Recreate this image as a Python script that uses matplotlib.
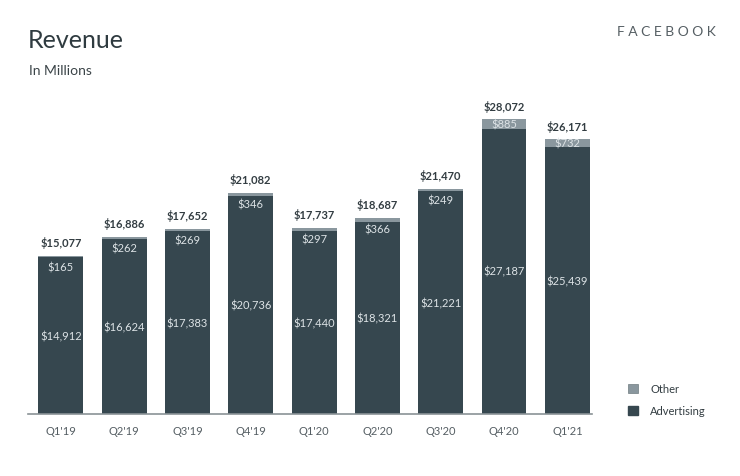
import matplotlib
matplotlib.use("Agg")
import matplotlib.pyplot as plt
from matplotlib.patches import Patch

quarters = ["Q1'19", "Q2'19", "Q3'19", "Q4'19", "Q1'20", "Q2'20", "Q3'20", "Q4'20", "Q1'21"]
advertising = [14912, 16624, 17383, 20736, 17440, 18321, 21221, 27187, 25439]
other = [165, 262, 269, 346, 297, 366, 249, 885, 732]
totals = [15077, 16886, 17652, 21082, 17737, 18687, 21470, 28072, 26171]

ADV = "#36474f"
OTH = "#8a979e"
TXT = "#333d42"

plt.rcParams['font.family'] = ['Lato', 'DejaVu Sans']

fig = plt.figure(figsize=(7.4, 4.77), dpi=100)
W, H = 740, 477
ax_left, ax_right, ax_bottom, ax_top = 28, 592, 415, 100
ax = fig.add_axes([ax_left / W, 1 - ax_bottom / H, (ax_right - ax_left) / W, (ax_bottom - ax_top) / H])

x = list(range(len(quarters)))
ax.bar(x, advertising, width=0.71, color=ADV, zorder=2)
ax.bar(x, other, bottom=advertising, width=0.71, color=OTH, zorder=2)

ax.set_xlim(-0.52, 8.39)
ax.set_ylim(0, 30000)

for i in x:
    top = advertising[i] + other[i]
    ax.text(i, top + 1300, f"${totals[i]:,}", ha='center', va='center',
            fontsize=8, fontweight='bold', color=TXT)
    if other[i] > 600:
        oy = advertising[i] + other[i] / 2
    else:
        oy = top - 1050
    ax.text(i, oy, f"${other[i]:,}", ha='center', va='center', fontsize=8, color="#dde3e6")
    ax.text(i, advertising[i] / 2, f"${advertising[i]:,}", ha='center', va='center',
            fontsize=8, color="#dde3e6")

ax.set_xticks(x)
ax.set_xticklabels(quarters, fontsize=8, color="#555e63")
ax.tick_params(axis='x', length=0, pad=8)
ax.set_yticks([])
for s in ['top', 'right', 'left']:
    ax.spines[s].set_visible(False)
ax.spines['bottom'].set_color("#8a9296")
ax.spines['bottom'].set_linewidth(1.2)

fig.text(28 / W, 1 - 40 / H, "Revenue", fontsize=18, color="#2f3b40", va='center', ha='left')
fig.text(29 / W, 1 - 71 / H, "In Millions", fontsize=10, color="#3b4448", va='center', ha='left')
fig.text(716 / W, 1 - 32 / H, "F A C E B O O K", fontsize=10, color="#555e63",
         va='center', ha='right')

handles = [Patch(facecolor=OTH, edgecolor='#6f7b80', linewidth=0.5, label='Other'),
           Patch(facecolor=ADV, edgecolor=ADV, label='Advertising')]
fig.legend(handles=handles, loc='upper left', bbox_to_anchor=(618 / W, 1 - 374 / H),
           frameon=False, fontsize=8, handlelength=0.9, handleheight=0.9,
           labelspacing=1.0, handletextpad=1.1, labelcolor="#333d42")

fig.savefig("out.png", dpi=100, facecolor='white')
